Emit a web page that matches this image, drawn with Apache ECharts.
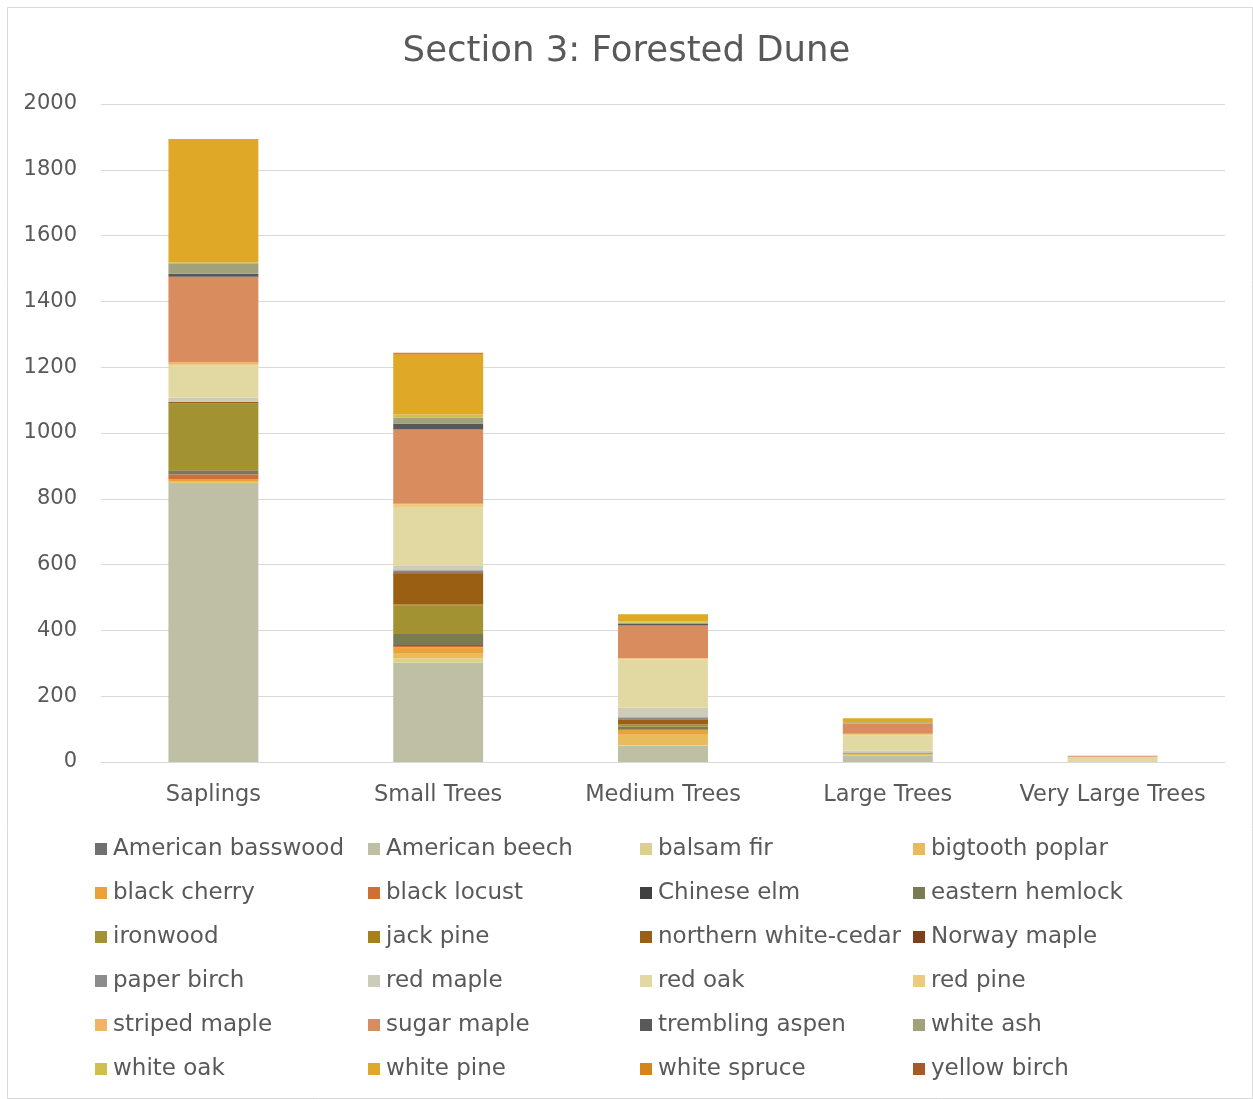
<!DOCTYPE html>
<html>
<head>
<meta charset="utf-8">
<title>Section 3: Forested Dune</title>
<script src="https://cdn.jsdelivr.net/npm/echarts@6/dist/echarts.min.js"></script>
<style>
  html, body { margin: 0; padding: 0; background: #fff; }
  #chart { width: 1253px; height: 1099px; }
</style>
</head>
<body>
<div id="chart"></div>
<script>
// Size classes along the x axis
const categories = ['Saplings', 'Small Trees', 'Medium Trees', 'Large Trees', 'Very Large Trees'];

// Species, in stacking order (bottom to top)
const species = [
  'American basswood', 'American beech', 'balsam fir', 'bigtooth poplar',
  'black cherry', 'black locust', 'Chinese elm', 'eastern hemlock',
  'ironwood', 'jack pine', 'northern white-cedar', 'Norway maple',
  'paper birch', 'red maple', 'red oak', 'red pine',
  'striped maple', 'sugar maple', 'trembling aspen', 'white ash',
  'white oak', 'white pine', 'white spruce', 'yellow birch'
];

// Tree counts per species for each size class (same order as species)
const saplings       = [0, 849, 0, 3, 8, 14, 0, 13, 201, 2, 5, 0, 0, 13, 98, 4, 5, 260, 9, 32, 3, 372, 0, 2];
const smallTrees     = [0, 302, 13, 16, 18, 4, 3, 33, 86, 4, 95, 3, 6, 15, 175, 12, 0, 226, 18, 18, 9, 182, 6, 0];
const mediumTrees    = [0, 50, 2, 31, 15, 0, 0, 9, 7, 0, 16, 0, 6, 29, 147, 2, 2, 99, 6, 2, 5, 21, 0, 0];
const largeTrees     = [0, 20, 0, 4, 0, 0, 0, 2, 0, 0, 0, 0, 3, 6, 46, 5, 0, 31, 0, 4, 0, 12, 0, 0];
const veryLargeTrees = [0, 0, 0, 0, 0, 0, 0, 0, 0, 0, 0, 0, 0, 0, 16, 0, 0, 3, 0, 0, 0, 0, 0, 0];

// Value axis ticks
const yTicks = [0, 200, 400, 600, 800, 1000, 1200, 1400, 1600, 1800, 2000];

const speciesColors = [
  '#707070', '#BFBFA5', '#DBD18A', '#E8BC5A',
  '#EBA23A', '#CF6F33', '#404040', '#7A7A55',
  '#A29232', '#A88018', '#9B5F13', '#7D401C',
  '#8C8C8C', '#CCCCB8', '#E2D9A2', '#EDCB7E',
  '#F0B464', '#D98C5E', '#595959', '#A1A17B',
  '#CEC04C', '#DFA826', '#D4861A', '#A65A28'
];

const byClass = [saplings, smallTrees, mediumTrees, largeTrees, veryLargeTrees];

const series = species.map((name, i) => ({
  name: name,
  type: 'bar',
  stack: 'total',
  barWidth: '40%',
  itemStyle: { color: speciesColors[i] },
  emphasis: { disabled: true },
  data: byClass.map(arr => arr[i])
}));

const FONT = 'DejaVu Sans';
const TEXT = '#595959';

// Legend laid out as four columns, rows read left to right
const legendCols = [0, 1, 2, 3].map(c => species.filter((_, i) => i % 4 === c));
const legendLeft = [95, 368, 640, 913];
const legends = legendCols.map((names, c) => ({
  data: names,
  orient: 'vertical',
  left: legendLeft[c],
  top: 837,
  padding: 0,
  itemWidth: 12,
  itemHeight: 12,
  itemGap: 20,
  icon: 'rect',
  selectedMode: false,
  textStyle: { color: TEXT, fontFamily: FONT, fontSize: 23, lineHeight: 24, padding: [0, 0, 0, 1] }
}));

const chart = echarts.init(document.getElementById('chart'), null, { renderer: 'canvas' });
chart.setOption({
  animation: false,
  backgroundColor: '#ffffff',
  color: speciesColors,
  title: {
    text: 'Section 3: Forested Dune',
    left: 'center',
    top: 29,
    textStyle: { color: TEXT, fontFamily: FONT, fontSize: 35.5, fontWeight: 'normal' }
  },
  graphic: [{
    type: 'rect',
    shape: { x: 7.5, y: 7.5, width: 1245, height: 1091 },
    style: { fill: 'none', stroke: '#D9D9D9', lineWidth: 1 },
    silent: true
  }],
  legend: legends,
  grid: { left: 101, right: 28, top: 104, bottom: 337, containLabel: false },
  xAxis: {
    type: 'category',
    data: categories,
    axisLine: { lineStyle: { color: '#D9D9D9', width: 1 } },
    axisTick: { show: false },
    axisLabel: { color: TEXT, fontFamily: FONT, fontSize: 22.5, margin: 22, interval: 0 }
  },
  yAxis: {
    type: 'value',
    min: yTicks[0],
    max: yTicks[yTicks.length - 1],
    interval: yTicks[1] - yTicks[0],
    axisLine: { show: false },
    axisTick: { show: false },
    splitLine: { lineStyle: { color: '#D9D9D9', width: 1 } },
    axisLabel: {
      color: TEXT, fontFamily: FONT, fontSize: 21, margin: 24,
      padding: [5, 0, 0, 0],
      formatter: v => String(v)
    }
  },
  series: series
});
</script>
</body>
</html>
